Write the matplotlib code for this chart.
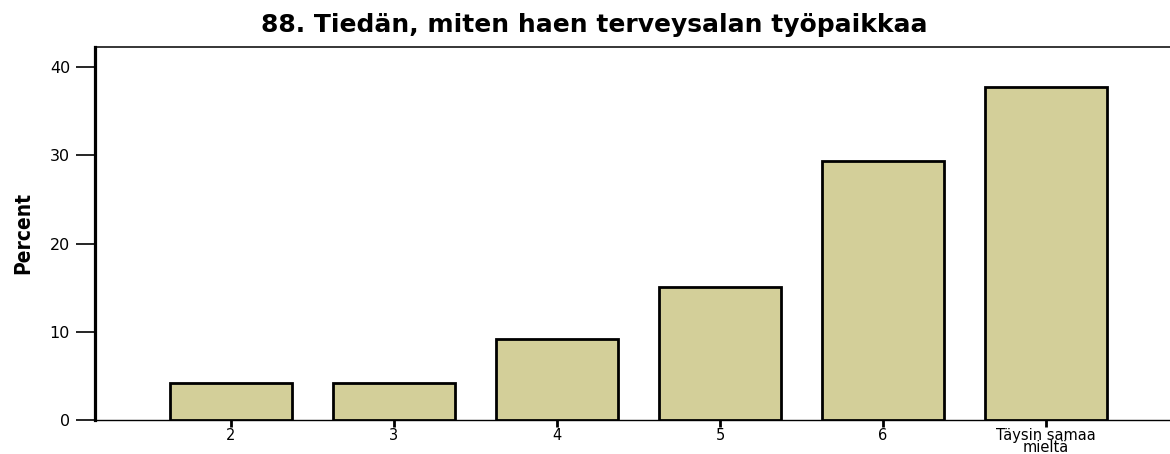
import matplotlib
matplotlib.use("Agg")
import matplotlib.pyplot as plt

categories = ['2', '3', '4', '5', '6', 'Täysin samaa\nmieltä']
percent = [4.2, 4.2, 9.2, 15.1, 29.4, 37.8]

title = '88. Tiedän, miten haen terveysalan työpaikkaa'
bar_color = '#d3cf99'

fig = plt.figure(figsize=(11.7, 4.54), dpi=100)
ax = fig.add_axes([0.0812, 0.0749, 0.9188, 0.8216])

x = list(range(len(categories)))
ax.bar(x, percent, width=0.75, color=bar_color, edgecolor='black',
       linewidth=2.0, zorder=3)

ax.set_xlim(-0.834, 5.76)
ax.set_ylim(0, 42.3)
ax.set_yticks([0, 10, 20, 30, 40])
ax.set_xticks(x)
ax.set_xticklabels(categories, fontsize=10.5, linespacing=0.72)
ax.tick_params(axis='y', direction='out', length=14, width=1.2,
               labelsize=11.5, pad=4, colors='black')
ax.tick_params(axis='x', direction='out', length=5, width=2.0,
               pad=1, colors='black')

# heavy left axis, thin top and bottom rules, no right border
ax.spines['left'].set_linewidth(2.3)
ax.spines['top'].set_linewidth(1.1)
ax.spines['bottom'].set_linewidth(1.0)
ax.spines['right'].set_visible(False)

ax.set_ylabel('Percent', fontsize=15, fontweight='bold',
              fontstretch='condensed', labelpad=12)

fig.suptitle(title, x=0.508, y=0.972, fontsize=18, fontweight='bold')

fig.savefig('out.png', dpi=100)
